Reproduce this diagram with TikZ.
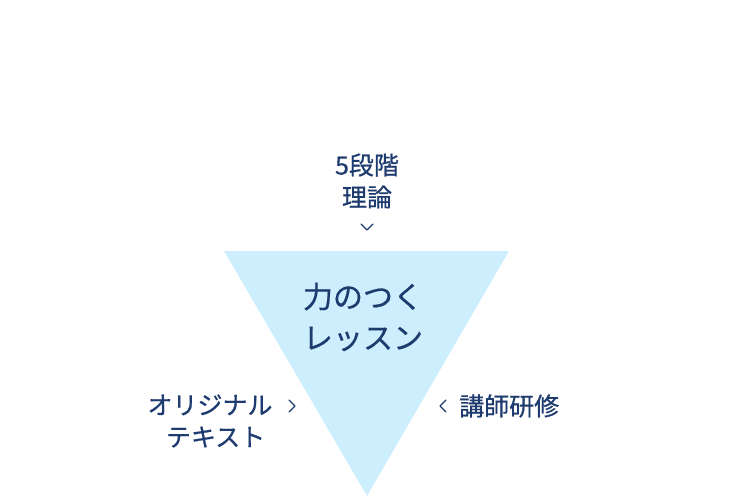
\documentclass[tikz,border=0pt]{standalone}
\usepackage{fontspec}
\newfontfamily\jpfont[FakeBold=0.6]{Noto Sans CJK JP}
\definecolor{navy}{HTML}{1D3B6E}
\definecolor{paleblue}{HTML}{CDEFFD}
\tikzset{
    label/.style={text=navy, font=\jpfont\fontsize{25}{32}\selectfont, align=center, inner sep=0pt},
    title/.style={text=navy, font=\jpfont\fontsize{30}{41}\selectfont, align=center, inner sep=0pt},
    chevron/.style={draw=navy, line width=1.4pt, line cap=round, line join=round}
}
\begin{document}
\begin{tikzpicture}[x=1pt, y=-1pt]
    \useasboundingbox (0,0) rectangle (737,500);
    % Triangle
    \fill[paleblue] (224,251) -- (509,251) -- (367,496) -- cycle;
    % Centre text
    \node[title] (main) at (363,317) {力のつく\\レッスン};
    % Top label
    \node[label] (theory) at (367,181) {5段階\\理論};
    \draw[chevron] (361,224) -- (367,230) -- (373,224);
    % Left label
    \node[label] (text) at (210,421) {オリジナル\\\ \ テキスト};
    \draw[chevron] (289,400) -- (295,406) -- (289,412);
    % Right label
    \node[label, anchor=west] (train) at (459,406) {講師研修};
    \draw[chevron] (446,400) -- (440,406) -- (446,412);
\end{tikzpicture}
\end{document}
